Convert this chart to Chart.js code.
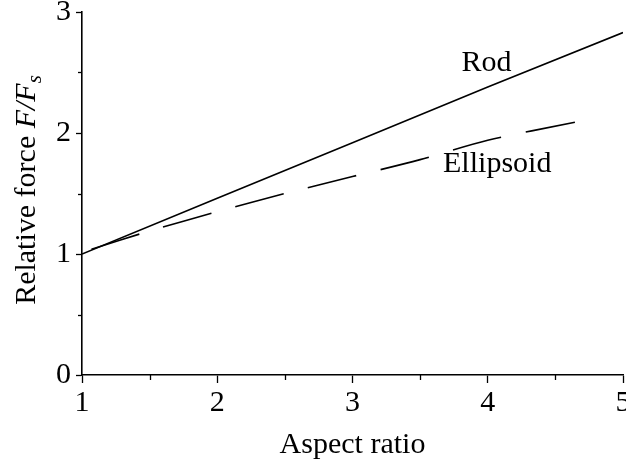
<!DOCTYPE html>
<html><head><meta charset="utf-8">
<script src="https://cdn.jsdelivr.net/npm/chart.js@4"></script>
<style>html,body{margin:0;padding:0;background:#fff}#wrap{width:626px;height:469px}</style>
</head><body><div id="wrap"><canvas id="c" width="626" height="469"></canvas></div>
<script>
// ---- data ----
const aspectRod = [1, 2, 3, 4, 5];
const forceRod = [1, 1.46, 1.92, 2.38, 2.83];
const aspectEll = [1.07, 1.5, 2, 2.5, 3, 3.5, 4, 4.65];
const forceEll = [1.04, 1.19, 1.35, 1.50, 1.64, 1.78, 1.94, 2.09];
const xTicks = [1, 2, 3, 4, 5];
const yTicks = [0, 1, 2, 3];
const xMinor = [1.5, 2.5, 3.5, 4.5];
const yMinor = [0.5, 1.5, 2.5];
const seriesNames = ['Rod', 'Ellipsoid'];
const labelAt = [[3.99, 2.58], [4.07, 1.74]];
const xTitle = 'Aspect ratio';

const FONT = '"Liberation Serif", "Times New Roman", serif';
Chart.defaults.font.family = FONT;
Chart.defaults.color = '#000';

const deco = {
  id: 'deco',
  afterDraw(chart) {
    const { ctx, scales: { x, y } } = chart;
    ctx.save();
    ctx.strokeStyle = '#000';
    ctx.lineWidth = 1.3;
    for (const v of xMinor) {
      const px = Math.round(x.getPixelForValue(v)) + 0.5;
      ctx.beginPath(); ctx.moveTo(px, y.bottom); ctx.lineTo(px, y.bottom + 5); ctx.stroke();
    }
    for (const v of yMinor) {
      const py = Math.round(y.getPixelForValue(v)) + 0.5;
      ctx.beginPath(); ctx.moveTo(x.left, py); ctx.lineTo(x.left - 4, py); ctx.stroke();
    }
    ctx.fillStyle = '#000';
    ctx.font = '30px ' + FONT;
    ctx.textAlign = 'center';
    ctx.textBaseline = 'middle';
    seriesNames.forEach((n, i) => {
      ctx.fillText(n, x.getPixelForValue(labelAt[i][0]), y.getPixelForValue(labelAt[i][1]));
    });
    // y-axis title with italic F/F_s
    const parts = [
      { t: 'Relative force ', f: '30px ' + FONT, dy: 0 },
      { t: 'F/F', f: 'italic 30px ' + FONT, dy: 0 },
      { t: 's', f: 'italic 21px ' + FONT, dy: 6 }
    ];
    ctx.textAlign = 'left';
    ctx.textBaseline = 'alphabetic';
    let total = 0;
    parts.forEach(p => { ctx.font = p.f; p.w = ctx.measureText(p.t).width; total += p.w; });
    ctx.translate(35, 190);
    ctx.rotate(-Math.PI / 2);
    let cx = -total / 2;
    parts.forEach(p => { ctx.font = p.f; ctx.fillText(p.t, cx, p.dy); cx += p.w; });
    ctx.restore();
  }
};

new Chart(document.getElementById('c'), {
  type: 'line',
  data: {
    datasets: [
      {
        label: seriesNames[0],
        data: aspectRod.map((a, i) => ({ x: a, y: forceRod[i] })),
        borderColor: '#000', borderWidth: 1.6, pointRadius: 0, tension: 0, fill: false
      },
      {
        label: seriesNames[1],
        data: aspectEll.map((a, i) => ({ x: a, y: forceEll[i] })),
        borderColor: '#000', borderWidth: 1.6, borderDash: [50, 25], pointRadius: 0, tension: 0.3, fill: false
      }
    ]
  },
  options: {
    responsive: false,
    devicePixelRatio: 1,
    animation: false,
    layout: { padding: { top: 12, right: 3, left: 0, bottom: 0 } },
    plugins: { legend: { display: false }, tooltip: { enabled: false } },
    scales: {
      x: {
        type: 'linear', min: 1, max: 5,
        afterBuildTicks: s => { s.ticks = xTicks.map(v => ({ value: v })); },
        ticks: { font: { size: 30 }, color: '#000', padding: 2, maxRotation: 0 },
        grid: { drawOnChartArea: false, color: '#000', tickLength: 8, tickWidth: 1.3 },
        border: { display: true, color: '#000', width: 1.6 },
        title: { display: true, text: xTitle, font: { size: 30 }, color: '#000', padding: { top: 0, bottom: 6 } },
        afterFit: s => { s.height = 94; s.paddingLeft = 0; s.paddingRight = 0; }
      },
      y: {
        type: 'linear', min: 0, max: 3,
        afterBuildTicks: s => { s.ticks = yTicks.map(v => ({ value: v })); },
        ticks: { font: { size: 30 }, color: '#000', padding: 5 },
        grid: { drawOnChartArea: false, color: '#000', tickLength: 6, tickWidth: 1.3 },
        border: { display: true, color: '#000', width: 1.6 },
        afterFit: s => { s.width = 82; s.paddingTop = 0; s.paddingBottom = 0; }
      }
    }
  },
  plugins: [deco]
});
</script>
</body></html>
